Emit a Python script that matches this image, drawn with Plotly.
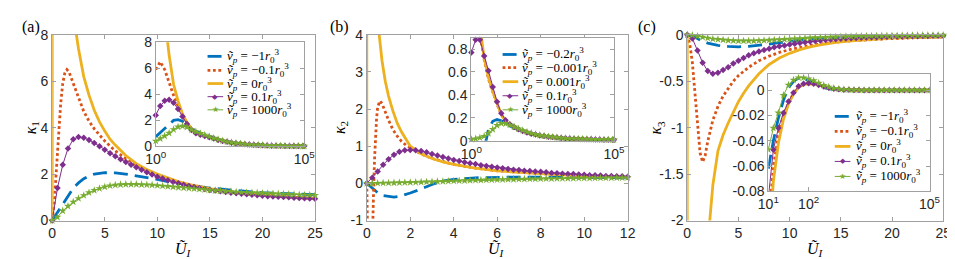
import plotly.graph_objects as go

W, H = 955, 259

# ---------------- Panel (a) main ----------------
A_MAIN_X = [0, 0.5, 1, 1.5, 2, 2.5, 3, 3.5, 4, 4.5, 5, 5.5, 6, 6.5, 7, 7.5, 8, 8.5, 9, 9.5, 10,
            10.5, 11, 11.5, 12, 12.5, 13, 13.5, 14, 14.5, 15, 15.5, 16, 16.5, 17, 17.5, 18, 18.5,
            19, 19.5, 20, 20.5, 21, 21.5, 22, 22.5, 23, 23.5, 24, 24.5, 25]
A_PURPLE = [0, 1.4, 2.4, 3.1, 3.5, 3.6, 3.56, 3.47, 3.34, 3.2, 3.05, 2.9, 2.77, 2.64, 2.52, 2.4,
            2.29, 2.19, 2.08, 1.98, 1.89, 1.81, 1.73, 1.66, 1.6, 1.54, 1.49, 1.44, 1.4, 1.36, 1.32,
            1.29, 1.26, 1.23, 1.2, 1.18, 1.15, 1.13, 1.11, 1.09, 1.07, 1.05, 1.04, 1.02, 1.01, 1.0,
            0.98, 0.97, 0.96, 0.95, 0.94]
A_GREEN = [0, 0.15, 0.42, 0.62, 0.8, 0.95, 1.08, 1.2, 1.3, 1.38, 1.45, 1.5, 1.53, 1.55, 1.56, 1.56,
           1.56, 1.55, 1.54, 1.53, 1.51, 1.49, 1.47, 1.45, 1.43, 1.41, 1.39, 1.37, 1.35, 1.33, 1.31,
           1.29, 1.28, 1.26, 1.25, 1.23, 1.22, 1.21, 1.2, 1.19, 1.18, 1.17, 1.16, 1.15, 1.14, 1.13,
           1.12, 1.11, 1.1, 1.1, 1.09]
A_BLUE_X = [0, 0.5, 1, 1.5, 2, 2.5, 3, 3.5, 4, 5, 6, 7, 8, 9, 10, 11, 12, 13, 14, 15, 16, 17, 18,
            19, 20, 21, 22, 23, 24, 25]
A_BLUE = [0, 0.35, 0.75, 1.1, 1.4, 1.62, 1.8, 1.92, 2.0, 2.06, 2.05, 2.0, 1.93, 1.85, 1.77, 1.68,
          1.6, 1.52, 1.46, 1.4, 1.35, 1.3, 1.26, 1.23, 1.2, 1.18, 1.16, 1.14, 1.12, 1.11]
A_ORANGE_X = [0, 0.2, 0.4, 0.6, 0.8, 1, 1.2, 1.4, 1.6, 1.8, 2, 2.5, 3, 3.5, 4, 5, 6, 7, 8, 9, 10,
              12, 14, 16, 18, 20, 22, 25]
A_ORANGE = [0, 0.8, 2.2, 3.8, 5.0, 5.9, 6.35, 6.5, 6.4, 6.15, 5.9, 5.25, 4.7, 4.28, 3.95, 3.42,
            3.0, 2.66, 2.38, 2.12, 1.92, 1.62, 1.41, 1.27, 1.16, 1.08, 1.02, 0.95]
A_YELLOW_X = [0, 0.03, 2.3, 2.5, 3, 3.5, 4, 4.5, 5, 5.5, 6, 7, 8, 9, 10, 11, 12, 13, 14, 15, 16,
              17, 18, 19, 20, 21, 22, 23, 24, 25]
A_YELLOW = [0, 300, 8.0, 7.4, 6.2, 5.4, 4.75, 4.25, 3.85, 3.5, 3.25, 2.8, 2.45, 2.2, 2.0, 1.83,
            1.68, 1.56, 1.46, 1.37, 1.3, 1.23, 1.18, 1.13, 1.09, 1.05, 1.02, 0.99, 0.97, 0.95]

# ---------------- Panels (a),(b) insets (log x) ----------------
INSET_AB_X = [1, 1.413, 1.995, 2.818, 3.981, 5.623, 7.943, 11.22, 15.85, 22.39, 31.62, 44.67,
              63.1, 89.13, 125.9, 177.8, 251.2, 354.8, 501.2, 707.9, 1000, 1413, 1995, 2818,
              3981, 5623, 7943, 11220, 15850, 22390, 31620, 44670, 63100, 89130, 100000]
A_IN_PURPLE = [2.4, 3.1, 3.5, 3.58, 3.35, 2.88, 2.3, 1.72, 1.27, 1.02, 0.9, 0.8, 0.7, 0.6, 0.5,
               0.42, 0.35, 0.29, 0.24, 0.2, 0.17, 0.14, 0.12, 0.1, 0.085, 0.07, 0.06, 0.05, 0.045,
               0.04, 0.035, 0.03, 0.028, 0.025, 0.025]
A_IN_GREEN = [0.42, 0.6, 0.8, 1.02, 1.3, 1.5, 1.56, 1.48, 1.3, 1.13, 1.0, 0.88, 0.76, 0.64, 0.53,
              0.44, 0.36, 0.3, 0.25, 0.2, 0.17, 0.14, 0.12, 0.1, 0.085, 0.07, 0.06, 0.05, 0.045,
              0.04, 0.035, 0.03, 0.028, 0.025, 0.025]
A_IN_BLUE = [0.75, 1.05, 1.4, 1.72, 2.0, 2.06, 1.93, 1.68, 1.36, 1.15, 1.02, 0.9, 0.77, 0.65, 0.54,
             0.44, 0.36, 0.3, 0.25, 0.2, 0.17, 0.14, 0.12, 0.1, 0.085, 0.07, 0.06, 0.05, 0.045,
             0.04, 0.035, 0.03, 0.028, 0.025, 0.025]
A_IN_ORANGE = [5.9, 6.5, 5.9, 4.85, 3.92, 3.1, 2.38, 1.74, 1.28, 1.02, 0.9, 0.8, 0.7, 0.6, 0.5,
               0.42, 0.35, 0.29, 0.24, 0.2, 0.17, 0.14, 0.12, 0.1, 0.085, 0.07, 0.06, 0.05, 0.045,
               0.04, 0.035, 0.03, 0.028, 0.025, 0.025]
A_IN_YELLOW = [21, 14, 10, 7.0, 4.75, 3.5, 2.5, 1.85, 1.35, 1.05, 0.92, 0.81, 0.7, 0.6, 0.5,
               0.42, 0.35, 0.29, 0.24, 0.2, 0.17, 0.14, 0.12, 0.1, 0.085, 0.07, 0.06, 0.05, 0.045,
               0.04, 0.035, 0.03, 0.028, 0.025, 0.025]

# ---------------- Panel (b) main ----------------
B_MAIN_X = [0, 0.25, 0.5, 0.75, 1, 1.25, 1.5, 1.75, 2, 2.25, 2.5, 2.75, 3, 3.25, 3.5, 3.75, 4,
            4.25, 4.5, 4.75, 5, 5.25, 5.5, 5.75, 6, 6.25, 6.5, 6.75, 7, 7.25, 7.5, 7.75, 8, 8.25,
            8.5, 8.75, 9, 9.25, 9.5, 9.75, 10, 10.25, 10.5, 10.75, 11, 11.25, 11.5, 11.75, 12]
B_PURPLE = [0, 0.15, 0.32, 0.5, 0.65, 0.77, 0.85, 0.89, 0.9, 0.89, 0.87, 0.84, 0.79, 0.75, 0.71,
            0.67, 0.63, 0.6, 0.57, 0.54, 0.52, 0.49, 0.47, 0.45, 0.43, 0.41, 0.39, 0.37, 0.36,
            0.34, 0.33, 0.32, 0.31, 0.3, 0.28, 0.27, 0.26, 0.25, 0.25, 0.24, 0.23, 0.22, 0.22,
            0.21, 0.2, 0.2, 0.19, 0.19, 0.18]
B_GREEN = [0, 0, 0.005, 0.01, 0.012, 0.015, 0.02, 0.023, 0.027, 0.03, 0.035, 0.04, 0.045, 0.05,
           0.055, 0.06, 0.065, 0.07, 0.075, 0.08, 0.085, 0.09, 0.093, 0.097, 0.1, 0.104, 0.107,
           0.11, 0.113, 0.116, 0.119, 0.122, 0.124, 0.127, 0.129, 0.131, 0.133, 0.135, 0.137,
           0.139, 0.141, 0.143, 0.145, 0.146, 0.148, 0.149, 0.151, 0.152, 0.153]
B_BLUE_X = [0, 0.25, 0.5, 0.75, 1, 1.25, 1.5, 1.75, 2, 2.5, 3, 3.5, 4, 5, 6, 7, 8, 9, 10, 11, 12]
B_BLUE = [0, -0.12, -0.25, -0.33, -0.36, -0.37, -0.35, -0.31, -0.26, -0.15, -0.03, 0.06, 0.11,
          0.15, 0.17, 0.17, 0.17, 0.17, 0.16, 0.16, 0.15]
B_ORANGE_X = [0, 0.04, 0.26, 0.28, 0.32, 0.36, 0.4, 0.45, 0.5, 0.55, 0.6, 0.7, 0.8, 1.0, 1.2, 1.4,
              1.6, 1.8, 2, 2.5, 3, 3.5, 4, 5, 6, 7, 8, 9, 10, 11, 12]
B_ORANGE = [0, -1.5, -1.5, -0.8, 0.0, 0.7, 1.3, 1.75, 2.05, 2.18, 2.22, 2.15, 1.98, 1.7, 1.45,
            1.27, 1.13, 1.03, 0.96, 0.79, 0.67, 0.58, 0.51, 0.41, 0.34, 0.3, 0.26, 0.23, 0.21,
            0.19, 0.17]
B_YELLOW_X = [0, 0.01, 0.3, 0.5, 0.57, 0.7, 0.85, 1.0, 1.2, 1.4, 1.6, 1.8, 2, 2.5, 3, 3.5, 4, 5,
              6, 7, 8, 9, 10, 11, 12]
B_YELLOW = [0, 400, 12, 5.0, 4.0, 3.3, 2.75, 2.35, 1.95, 1.62, 1.38, 1.17, 1.0, 0.8, 0.67, 0.58,
            0.51, 0.41, 0.34, 0.3, 0.26, 0.23, 0.21, 0.19, 0.17]

B_IN_PURPLE = [0.77, 0.88, 0.88, 0.74, 0.61, 0.47, 0.34, 0.24, 0.18, 0.145, 0.12, 0.1, 0.085,
               0.072, 0.062, 0.054, 0.047, 0.041, 0.036, 0.032, 0.028, 0.025, 0.022, 0.02, 0.018,
               0.016, 0.015, 0.014, 0.013, 0.012, 0.011, 0.01, 0.01, 0.009, 0.009]
B_IN_YELLOW = [2.2, 1.5, 1.0, 0.72, 0.55, 0.43, 0.32, 0.23, 0.17, 0.14, 0.115, 0.097, 0.083, 0.07,
               0.06, 0.052, 0.045, 0.04, 0.035, 0.031, 0.027, 0.024, 0.021, 0.019, 0.017, 0.016,
               0.014, 0.013, 0.012, 0.011, 0.011, 0.01, 0.01, 0.009, 0.009]
B_IN_ORANGE = [1.65, 1.2, 0.93, 0.71, 0.54, 0.43, 0.32, 0.23, 0.17, 0.14, 0.115, 0.097, 0.083,
               0.07, 0.06, 0.052, 0.045, 0.04, 0.035, 0.031, 0.027, 0.024, 0.021, 0.019, 0.017,
               0.016, 0.014, 0.013, 0.012, 0.011, 0.011, 0.01, 0.01, 0.009, 0.009]
B_IN_BLUE = [-0.36, -0.33, -0.25, -0.06, 0.1, 0.17, 0.185, 0.175, 0.15, 0.13, 0.11, 0.095, 0.08,
             0.07, 0.062, 0.054, 0.047, 0.041, 0.036, 0.032, 0.028, 0.025, 0.022, 0.02, 0.018,
             0.016, 0.015, 0.014, 0.013, 0.012, 0.011, 0.01, 0.01, 0.009, 0.009]
B_IN_GREEN = [0.012, 0.018, 0.027, 0.04, 0.065, 0.1, 0.135, 0.152, 0.15, 0.138, 0.122, 0.105,
              0.09, 0.077, 0.066, 0.056, 0.048, 0.042, 0.036, 0.032, 0.028, 0.025, 0.022, 0.02,
              0.018, 0.016, 0.015, 0.014, 0.013, 0.012, 0.011, 0.01, 0.01, 0.009, 0.009]

# ---------------- Panel (c) main ----------------
C_MAIN_X = A_MAIN_X
C_PURPLE = [0, -0.04, -0.17, -0.3, -0.39, -0.42, -0.41, -0.38, -0.35, -0.31, -0.28, -0.25, -0.22,
            -0.2, -0.18, -0.165, -0.15, -0.135, -0.125, -0.115, -0.105, -0.096, -0.088, -0.08,
            -0.073, -0.067, -0.061, -0.056, -0.051, -0.047, -0.043, -0.04, -0.037, -0.034,
            -0.032, -0.03, -0.028, -0.026, -0.024, -0.022, -0.021, -0.02, -0.018, -0.017, -0.016,
            -0.015, -0.014, -0.013, -0.012, -0.011, -0.01]
C_GREEN = [0, -0.005, -0.015, -0.025, -0.035, -0.045, -0.05, -0.055, -0.06, -0.063, -0.065,
           -0.066, -0.066, -0.065, -0.063, -0.061, -0.058, -0.055, -0.052, -0.049, -0.046,
           -0.043, -0.04, -0.037, -0.034, -0.031, -0.029, -0.027, -0.025, -0.023, -0.021,
           -0.019, -0.018, -0.016, -0.015, -0.014, -0.013, -0.012, -0.011, -0.01, -0.009,
           -0.009, -0.008, -0.007, -0.007, -0.006, -0.006, -0.005, -0.005, -0.005, -0.004]
C_BLUE_X = [0, 0.5, 1, 1.5, 2, 3, 4, 5, 6, 7, 8, 9, 10, 11, 12, 13, 14, 15, 16, 18, 20, 22, 25]
C_BLUE = [0, -0.01, -0.04, -0.07, -0.09, -0.115, -0.125, -0.13, -0.125, -0.115, -0.1, -0.085,
          -0.07, -0.057, -0.046, -0.038, -0.031, -0.026, -0.022, -0.016, -0.012, -0.009, -0.006]
C_ORANGE_X = [0, 0.25, 0.5, 0.75, 1, 1.25, 1.5, 1.75, 2, 2.5, 3, 3.5, 4, 4.5, 5, 6, 7, 8, 9, 10,
              12, 14, 16, 18, 20, 22, 25]
C_ORANGE = [0, -0.1, -0.3, -0.62, -0.98, -1.27, -1.37, -1.3, -1.15, -0.92, -0.77, -0.66, -0.58,
            -0.5, -0.44, -0.35, -0.28, -0.23, -0.19, -0.16, -0.115, -0.085, -0.065, -0.05, -0.04,
            -0.032, -0.024]
C_YELLOW_X = [0, 0.02, 2.2, 2.5, 3, 3.5, 4, 4.5, 5, 5.5, 6, 7, 8, 9, 10, 11, 12, 13, 14, 15, 16,
              18, 20, 22, 25]
C_YELLOW = [0, -300, -2.0, -1.62, -1.25, -1.08, -0.95, -0.83, -0.72, -0.63, -0.55, -0.42, -0.32,
            -0.25, -0.2, -0.16, -0.13, -0.11, -0.09, -0.075, -0.065, -0.048, -0.037, -0.03, -0.022]

INSET_C_X = [10, 13.34, 17.78, 23.71, 31.62, 42.17, 56.23, 74.99, 100, 133.4, 177.8, 237.1, 316.2,
             421.7, 562.3, 749.9, 1000, 1334, 1778, 2371, 3162, 4217, 5623, 7499, 10000, 13340,
             17780, 23710, 31620, 42170, 56230, 74990, 100000]
C_IN_PURPLE = [-0.085, -0.047, -0.03, -0.018, -0.009, -0.002, 0.003, 0.005, 0.0055, 0.005, 0.004,
               0.0028, 0.0018, 0.001, 0.0006, 0.0003, 0.0002, 0.0001, 0.0001, 0, 0, 0, 0, 0, 0,
               0, 0, 0, 0, 0, 0, 0, 0]
C_IN_YELLOW = [-0.13, -0.072, -0.042, -0.023, -0.011, -0.003, 0.0022, 0.0045, 0.005, 0.0048,
               0.004, 0.0028, 0.0018, 0.001, 0.0006, 0.0003, 0.0002, 0.0001, 0.0001, 0, 0, 0, 0,
               0, 0, 0, 0, 0, 0, 0, 0, 0, 0]
C_IN_ORANGE = [-0.11, -0.06, -0.036, -0.02, -0.01, -0.0025, 0.0025, 0.0048, 0.0053, 0.005, 0.004,
               0.0028, 0.0018, 0.001, 0.0006, 0.0003, 0.0002, 0.0001, 0.0001, 0, 0, 0, 0, 0, 0,
               0, 0, 0, 0, 0, 0, 0, 0]
C_IN_BLUE = [-0.062, -0.04, -0.022, -0.008, 0.002, 0.007, 0.0095, 0.009, 0.0075, 0.0055, 0.0035,
             0.002, 0.001, 0.0005, 0.0003, 0.0002, 0.0001, 0, 0, 0, 0, 0, 0, 0, 0, 0, 0, 0, 0, 0,
             0, 0, 0]
C_IN_GREEN = [-0.047, -0.03, -0.018, -0.004, 0.004, 0.008, 0.0098, 0.0098, 0.009, 0.0075, 0.0055,
              0.0038, 0.0025, 0.0015, 0.0009, 0.0005, 0.0003, 0.0002, 0.0001, 0, 0, 0, 0, 0, 0, 0,
              0, 0, 0, 0, 0, 0, 0]

# ---------------- labels ----------------
LEGEND_A = ["−1", "−0.1", "0", "0.1", "1000"]
LEGEND_B = ["−0.2", "−0.001", "0.001", "0.1", "1000"]
LEGEND_C = ["−1", "−0.1", "0", "0.1", "1000"]

BLUE, ORANGE, YELLOW, PURPLE, GREEN = "#0072BD", "#D95319", "#EDB120", "#7E2F8E", "#77AC30"
STY = {
    "blue": dict(mode="lines", line=dict(color=BLUE, width=2.8, dash="14px,7px")),
    "orange": dict(mode="lines", line=dict(color=ORANGE, width=2.8, dash="2.8px,2.6px")),
    "yellow": dict(mode="lines", line=dict(color=YELLOW, width=2.8)),
    "purple": dict(mode="lines+markers", line=dict(color=PURPLE, width=1),
                   marker=dict(symbol="diamond", size=5, color=PURPLE)),
    "green": dict(mode="lines+markers", line=dict(color=GREEN, width=1),
                  marker=dict(symbol="star", size=6, color=GREEN)),
}

fig = go.Figure()


def add(x, y, xa, ya, key, clip=True):
    fig.add_trace(go.Scatter(x=x, y=y, xaxis=xa, yaxis=ya, showlegend=False, hoverinfo="skip",
                             cliponaxis=clip, **STY[key]))


# (a)
add(A_BLUE_X, A_BLUE, "x", "y", "blue")
add(A_ORANGE_X, A_ORANGE, "x", "y", "orange")
add(A_YELLOW_X, A_YELLOW, "x", "y", "yellow")
add(A_MAIN_X, A_PURPLE, "x", "y", "purple", False)
add(A_MAIN_X, A_GREEN, "x", "y", "green", False)
add(INSET_AB_X, A_IN_BLUE, "x2", "y2", "blue")
add(INSET_AB_X, A_IN_ORANGE, "x2", "y2", "orange")
add(INSET_AB_X, A_IN_YELLOW, "x2", "y2", "yellow")
add(INSET_AB_X, A_IN_PURPLE, "x2", "y2", "purple", False)
add(INSET_AB_X, A_IN_GREEN, "x2", "y2", "green", False)
# (b)
add(B_BLUE_X, B_BLUE, "x3", "y3", "blue")
add(B_ORANGE_X, B_ORANGE, "x3", "y3", "orange")
add(B_YELLOW_X, B_YELLOW, "x3", "y3", "yellow")
add(B_MAIN_X, B_PURPLE, "x3", "y3", "purple", False)
add(B_MAIN_X, B_GREEN, "x3", "y3", "green", False)
add(INSET_AB_X, B_IN_BLUE, "x4", "y4", "blue")
add(INSET_AB_X, B_IN_ORANGE, "x4", "y4", "orange")
add(INSET_AB_X, B_IN_YELLOW, "x4", "y4", "yellow")
add(INSET_AB_X, B_IN_PURPLE, "x4", "y4", "purple", False)
add(INSET_AB_X, B_IN_GREEN, "x4", "y4", "green", False)
# (c)
add(C_BLUE_X, C_BLUE, "x5", "y5", "blue")
add(C_ORANGE_X, C_ORANGE, "x5", "y5", "orange")
add(C_YELLOW_X, C_YELLOW, "x5", "y5", "yellow")
add(C_MAIN_X, C_PURPLE, "x5", "y5", "purple", False)
add(C_MAIN_X, C_GREEN, "x5", "y5", "green", False)
add(INSET_C_X, C_IN_BLUE, "x6", "y6", "blue")
add(INSET_C_X, C_IN_ORANGE, "x6", "y6", "orange")
add(INSET_C_X, C_IN_YELLOW, "x6", "y6", "yellow")
add(INSET_C_X, C_IN_PURPLE, "x6", "y6", "purple")
add(INSET_C_X, C_IN_GREEN, "x6", "y6", "green")

AXC = "#a0a0a0"


def px_x(p0, p1):
    return [p0 / W, p1 / W]


def px_y(top, bot):
    return [1 - bot / H, 1 - top / H]


def ax(domain, rng, vals, texts, anchor, typ="linear", size=14):
    return dict(domain=domain, range=rng, type=typ, anchor=anchor, tickmode="array",
                tickvals=vals, ticktext=texts, showline=True, mirror="ticks", linecolor=AXC,
                linewidth=1, ticks="inside", ticklen=4, tickcolor=AXC, tickwidth=1,
                showgrid=False, zeroline=False, fixedrange=True,
                tickfont=dict(family="Liberation Sans, Arial, sans-serif", size=size,
                              color="#262626"))


MAIN_Y = px_y(20, 218)
lay = dict(
    xaxis=ax(px_x(34, 303), [0, 25], [0, 5, 10, 15, 20, 25], ["0", "5", "10", "15", "20", "25"], "y"),
    yaxis=ax(MAIN_Y, [0, 8], [0, 2, 4, 6, 8], ["0", "2", "4", "6", "8"], "x"),
    xaxis2=ax(px_x(140, 292), [0, 5], [1, 100000], ["10<sup>0</sup>", "10<sup>5</sup>"], "y2", "log"),
    yaxis2=ax(px_y(28, 139), [0, 8], [0, 2, 4, 6, 8], ["0", "2", "4", "6", "8"], "x2"),
    xaxis3=ax(px_x(356, 623), [0, 12], [0, 2, 4, 6, 8, 10, 12], ["0", "2", "4", "6", "8", "10", "12"], "y3"),
    yaxis3=ax(MAIN_Y, [-1, 4], [-1, 0, 1, 2, 3, 4], ["-1", "0", "1", "2", "3", "4"], "x3"),
    xaxis4=ax(px_x(463, 609), [0, 5], [1, 100000], ["10<sup>0</sup>", "10<sup>5</sup>"], "y4", "log"),
    yaxis4=ax(px_y(23, 133), [0, 0.9], [0, 0.2, 0.4, 0.6, 0.8], ["0", "0.2", "0.4", "0.6", "0.8"], "x4"),
    xaxis5=ax(px_x(684, 946), [0, 25], [0, 5, 10, 15, 20, 25], ["0", "5", "10", "15", "20", "25"], "y5"),
    yaxis5=ax(MAIN_Y, [-2, 0], [-2, -1.5, -1, -0.5, 0], ["-2", "-1.5", "-1", "-0.5", "0"], "x5"),
    xaxis6=ax(px_x(767, 932), [1, 5], [10, 100, 100000],
              ["10<sup>1</sup>", "10<sup>2</sup>", "10<sup>5</sup>"], "y6", "log"),
    yaxis6=ax(px_y(62, 187), [-0.08, 0.0126], [-0.08, -0.06, -0.04, -0.02, 0],
              ["-0.08", "-0.06", "-0.04", "-0.02", "0"], "x6"),
)

SERIF = "Liberation Serif, DejaVu Serif, serif"
annotations = []
shapes = []


def ann(x, y, text, size=16, angle=0, xanchor="center", color="#000000", family=SERIF):
    annotations.append(dict(x=x / W, y=1 - y / H, xref="paper", yref="paper", text=text,
                            showarrow=False, xanchor=xanchor, yanchor="middle", textangle=angle,
                            font=dict(family=family, size=size, color=color)))


# panel labels and axis titles
for lab, px0, kx, sub, cx in [("(a)", 12, 13, "1", 168), ("(b)", 328, 329, "2", 489),
                              ("(c)", 643, 653, "3", 815)]:
    ann(px0, 12, lab, 16)
    ann(kx, 119, "<i>κ</i><sub>%s</sub>" % sub, 16, -90)
    ann(cx, 249, "<i>Ũ</i><sub><i>I</i></sub>", 16)

# custom legends
KEYS = ["blue", "orange", "yellow", "purple", "green"]
for labels, L, T, rows in [(LEGEND_A, 193, 211, [43, 58, 72, 86, 100]),
                           (LEGEND_B, 495, 513, [41, 55, 70, 85, 100]),
                           (LEGEND_C, 835, 855, [107, 123, 139, 155, 171])]:
    for lab, key, ry in zip(labels, KEYS, rows):
        st = STY[key]["line"]
        shapes.append(dict(type="line", xref="paper", yref="paper", x0=L / W, x1=(L + 16) / W,
                           y0=1 - ry / H, y1=1 - ry / H,
                           line=dict(color=st["color"], width=st["width"],
                                     dash=st.get("dash", "solid"))))
        if key == "purple":
            ann(L + 8, ry, "◆", 7, color=PURPLE, family="DejaVu Sans")
        if key == "green":
            ann(L + 8, ry, "★", 8, color=GREEN, family="DejaVu Sans")
        ann(T, ry, "<i>ṽ</i><sub><i>p</i></sub> = %s<i>r</i><sub>0</sub><sup>3</sup>" % lab,
            13, xanchor="left")

fig.update_layout(width=W, height=H, margin=dict(l=0, r=0, t=0, b=0), showlegend=False,
                  paper_bgcolor="white", plot_bgcolor="white", annotations=annotations,
                  shapes=shapes, **lay)
fig.write_html("out.html")
